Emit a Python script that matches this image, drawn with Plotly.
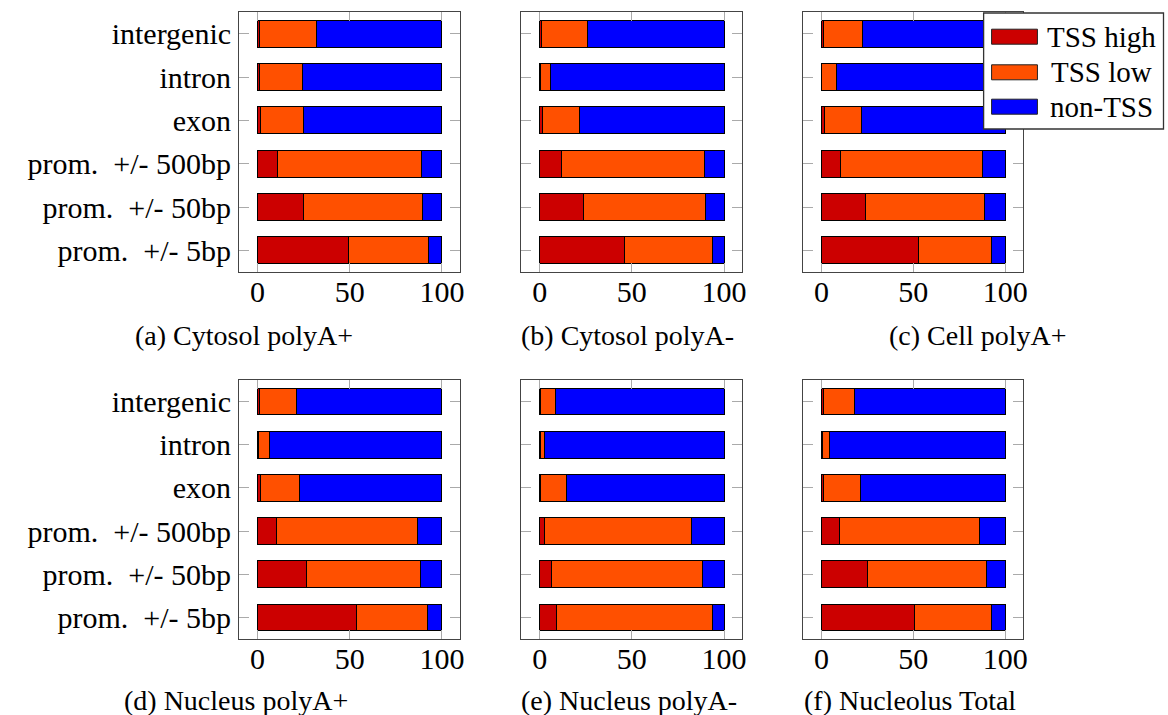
import plotly.graph_objects as go

W, H = 1168, 715

categories = ["prom. +/- 5bp", "prom. +/- 50bp", "prom. +/- 500bp", "exon", "intron", "intergenic"]
series_names = ["TSS high", "TSS low", "non-TSS"]
colors = ["#CC0000", "#FF5000", "#0000FF"]
x_ticks = [0, 50, 100]

# values ordered as categories (bottom to top)
cyto_polyA_plus_high = [49.1, 24.8, 10.8, 1.8, 1.1, 1.1]
cyto_polyA_plus_low = [43.7, 64.8, 77.9, 23.2, 23.0, 30.7]
cyto_polyA_plus_non = [7.2, 10.4, 11.3, 75.0, 75.9, 68.2]

cyto_polyA_minus_high = [46.2, 23.6, 12.0, 1.5, 0.4, 0.9]
cyto_polyA_minus_low = [47.4, 66.4, 77.6, 20.1, 5.6, 24.9]
cyto_polyA_minus_non = [6.4, 10.0, 10.4, 78.4, 94.0, 74.2]

cell_polyA_plus_high = [52.7, 24.1, 10.1, 1.6, 0.2, 0.9]
cell_polyA_plus_low = [39.7, 64.5, 77.4, 20.1, 8.0, 21.4]
cell_polyA_plus_non = [7.6, 11.4, 12.5, 78.3, 91.8, 77.7]

nuc_polyA_plus_high = [53.8, 26.4, 10.5, 1.6, 0.5, 1.1]
nuc_polyA_plus_low = [38.4, 61.8, 76.3, 21.2, 6.2, 19.9]
nuc_polyA_plus_non = [7.8, 11.8, 13.2, 77.2, 93.3, 79.0]

nuc_polyA_minus_high = [9.1, 6.2, 2.5, 0.5, 0.4, 0.4]
nuc_polyA_minus_low = [84.4, 82.3, 80.0, 14.0, 2.5, 8.3]
nuc_polyA_minus_non = [6.5, 11.5, 17.5, 85.5, 97.1, 91.3]

nucleolus_high = [50.4, 25.0, 10.0, 1.1, 0.4, 1.1]
nucleolus_low = [42.2, 64.7, 76.1, 20.3, 3.9, 16.8]
nucleolus_non = [7.4, 10.3, 13.9, 78.6, 95.7, 82.1]

panels = [
    ("(a) Cytosol polyA+", cyto_polyA_plus_high, cyto_polyA_plus_low, cyto_polyA_plus_non),
    ("(b) Cytosol polyA-", cyto_polyA_minus_high, cyto_polyA_minus_low, cyto_polyA_minus_non),
    ("(c) Cell polyA+", cell_polyA_plus_high, cell_polyA_plus_low, cell_polyA_plus_non),
    ("(d) Nucleus polyA+", nuc_polyA_plus_high, nuc_polyA_plus_low, nuc_polyA_plus_non),
    ("(e) Nucleus polyA-", nuc_polyA_minus_high, nuc_polyA_minus_low, nuc_polyA_minus_non),
    ("(f) Nucleolus Total", nucleolus_high, nucleolus_low, nucleolus_non),
]

FONT = "Liberation Serif"
TICK_SIZE = 30
CAP_SIZE = 28
LEG_SIZE = 29

# displayed tick text (TeX-like wider sentence space after "prom.")
tick_text = [c.replace("prom. ", "prom.\u00a0\u00a0") for c in categories]

def px(x):
    return x / W

def py(y):
    return 1 - y / H

col_x = [(240, 462), (523, 745), (806, 1027)]
row_y = [(12, 272), (380, 639)]
caption_pos = [(245, 335), (630, 335), (981, 335), (237, 700), (631, 700), (913, 700)]

fig = go.Figure()
layout = dict(
    width=W, height=H,
    margin=dict(l=0, r=0, t=0, b=0),
    paper_bgcolor="white", plot_bgcolor="white",
    barmode="stack", showlegend=False,
    font=dict(family=FONT, color="black"),
)
annotations = []
shapes = []

for i, (cap, hi, lo, non) in enumerate(panels):
    r, c = divmod(i, 3)
    xa = "x" if i == 0 else f"x{i+1}"
    ya = "y" if i == 0 else f"y{i+1}"
    for name, vals, col in zip(series_names, (hi, lo, non), colors):
        fig.add_trace(go.Bar(
            x=vals, y=categories, orientation="h", name=name,
            marker=dict(color=col, line=dict(color="black", width=1)),
            width=0.62, xaxis=xa, yaxis=ya,
        ))
    x0, x1 = col_x[c]
    y0, y1 = row_y[r]
    axkey_x = "xaxis" if i == 0 else f"xaxis{i+1}"
    axkey_y = "yaxis" if i == 0 else f"yaxis{i+1}"
    layout[axkey_x] = dict(
        domain=[px(x0), px(x1)], anchor=ya, range=[-10, 110],
        tickvals=x_ticks, ticktext=[str(t) for t in x_ticks],
        showgrid=False, zeroline=False,
        showline=True, linecolor="#444", linewidth=1.2, mirror="allticks",
        ticks="inside", ticklen=9, tickwidth=1, tickcolor="#aaaaaa",
        tickfont=dict(family=FONT, size=TICK_SIZE, color="black"),
        ticklabelstandoff=-7,
    )
    layout[axkey_y] = dict(
        domain=[py(y1), py(y0)], anchor=xa, type="category",
        categoryorder="array", categoryarray=categories, range=[-0.5, 5.5],
        tickmode="array", tickvals=categories, ticktext=tick_text,
        showgrid=False, zeroline=False,
        showline=True, linecolor="#444", linewidth=1.2, mirror="allticks",
        ticks="inside", ticklen=10, tickwidth=1, tickcolor="#aaaaaa",
        showticklabels=(c == 0),
        tickfont=dict(family=FONT, size=TICK_SIZE, color="black"),
        ticklabelstandoff=1,
    )
    cx, cy = caption_pos[i]
    annotations.append(dict(
        text=cap, x=px(cx), y=py(cy), xref="paper", yref="paper",
        xanchor="center", yanchor="middle", showarrow=False,
        font=dict(family=FONT, size=CAP_SIZE, color="black"),
    ))

# legend box
shapes.append(dict(type="rect", xref="paper", yref="paper",
                   x0=px(987), x1=px(1167.5), y0=py(129), y1=py(13),
                   fillcolor="white", line=dict(color="#333", width=1.3), layer="above"))
leg_rows = [36.7, 72.3, 106.7]
for name, col, yc in zip(series_names, colors, leg_rows):
    shapes.append(dict(type="rect", xref="paper", yref="paper",
                       x0=px(995), x1=px(1041), y0=py(yc + 7.5), y1=py(yc - 7.5),
                       fillcolor=col, line=dict(color="#222", width=1), layer="above"))
    annotations.append(dict(
        text=name, x=px(1105), y=py(yc), xref="paper", yref="paper",
        xanchor="center", yanchor="middle", showarrow=False,
        font=dict(family=FONT, size=LEG_SIZE, color="black"),
    ))

layout["annotations"] = annotations
layout["shapes"] = shapes
fig.update_layout(**layout)
fig.write_html(
    "out.html",
    config={"displayModeBar": False},
    post_script="document.body.style.margin='0';document.body.style.padding='0';document.body.style.overflow='hidden';",
)
